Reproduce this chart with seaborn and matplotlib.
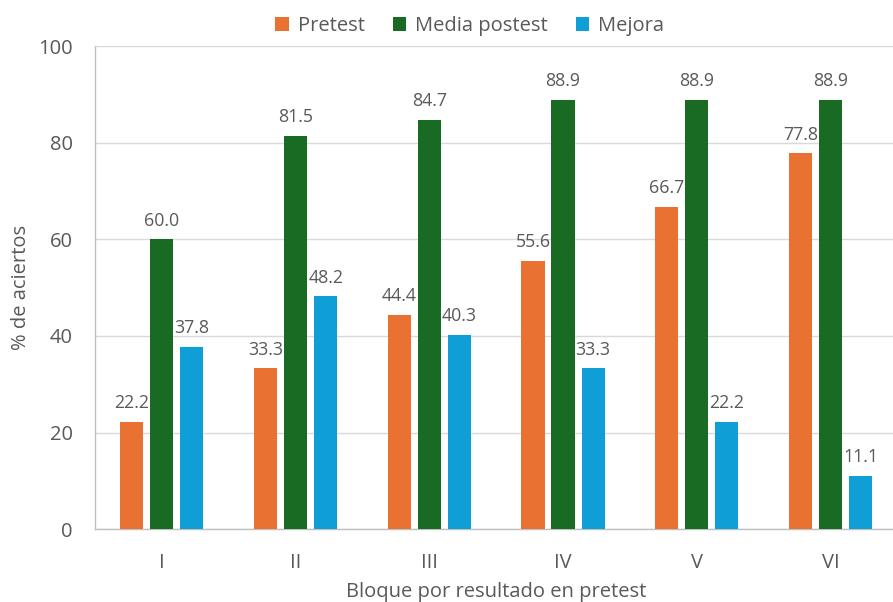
import pandas as pd
import matplotlib.pyplot as plt
import seaborn as sns

# Datos del gráfico
bloques = ["I", "II", "III", "IV", "V", "VI"]
pretest = [22.2, 33.3, 44.4, 55.6, 66.7, 77.8]
postest = [60.0, 81.5, 84.7, 88.9, 88.9, 88.9]
mejora = [37.8, 48.2, 40.3, 33.3, 22.2, 11.1]

series = ["Pretest", "Media postest", "Mejora"]
colores = ["#E97132", "#196B24", "#0F9ED5"]

df = pd.DataFrame({
    "bloque": bloques * 3,
    "serie": [s for s in series for _ in bloques],
    "valor": pretest + postest + mejora,
})

gris = "#595959"
sns.set_style("white")
plt.rcParams["font.family"] = ["Open Sans", "DejaVu Sans"]

fig = plt.figure(figsize=(8.93, 6.02), dpi=100)
ax = fig.add_axes([0.1064, 0.121, 0.8985, 0.8023])

sns.barplot(
    data=df, x="bloque", y="valor", hue="serie",
    hue_order=series, palette=colores, saturation=1,
    width=0.674, gap=0.23, errorbar=None, ax=ax,
    linewidth=0, zorder=3,
)

for cont in ax.containers:
    ax.bar_label(cont, fmt="%.1f", padding=7, fontsize=12.8, color=gris)

ax.set_ylim(0, 100)
ax.set_xlim(-0.5, 5.5)
ax.set_yticks([0, 20, 40, 60, 80, 100])
ax.yaxis.grid(True, color="#D9D9D9", linewidth=1, zorder=0)
ax.set_axisbelow(True)

for lado in ["top", "right"]:
    ax.spines[lado].set_visible(False)
for lado in ["left", "bottom"]:
    ax.spines[lado].set_color("#BFBFBF")
    ax.spines[lado].set_linewidth(1)

ax.tick_params(axis="both", length=0, labelsize=14.5, labelcolor=gris)
ax.tick_params(axis="x", pad=17)
ax.tick_params(axis="y", pad=16)
ax.set_ylabel("% de aciertos", fontsize=14.5, color=gris, labelpad=5)
ax.set_xlabel("Bloque por resultado en pretest", fontsize=14.5, color=gris, labelpad=7)

ax.legend(
    loc="upper center", bbox_to_anchor=(0.467, 1.1), ncol=3, frameon=False,
    fontsize=14.5, labelcolor=gris, handlelength=0.65, handleheight=0.65,
    handletextpad=0.45, columnspacing=1.4,
)

plt.savefig("out.png", dpi=100)
